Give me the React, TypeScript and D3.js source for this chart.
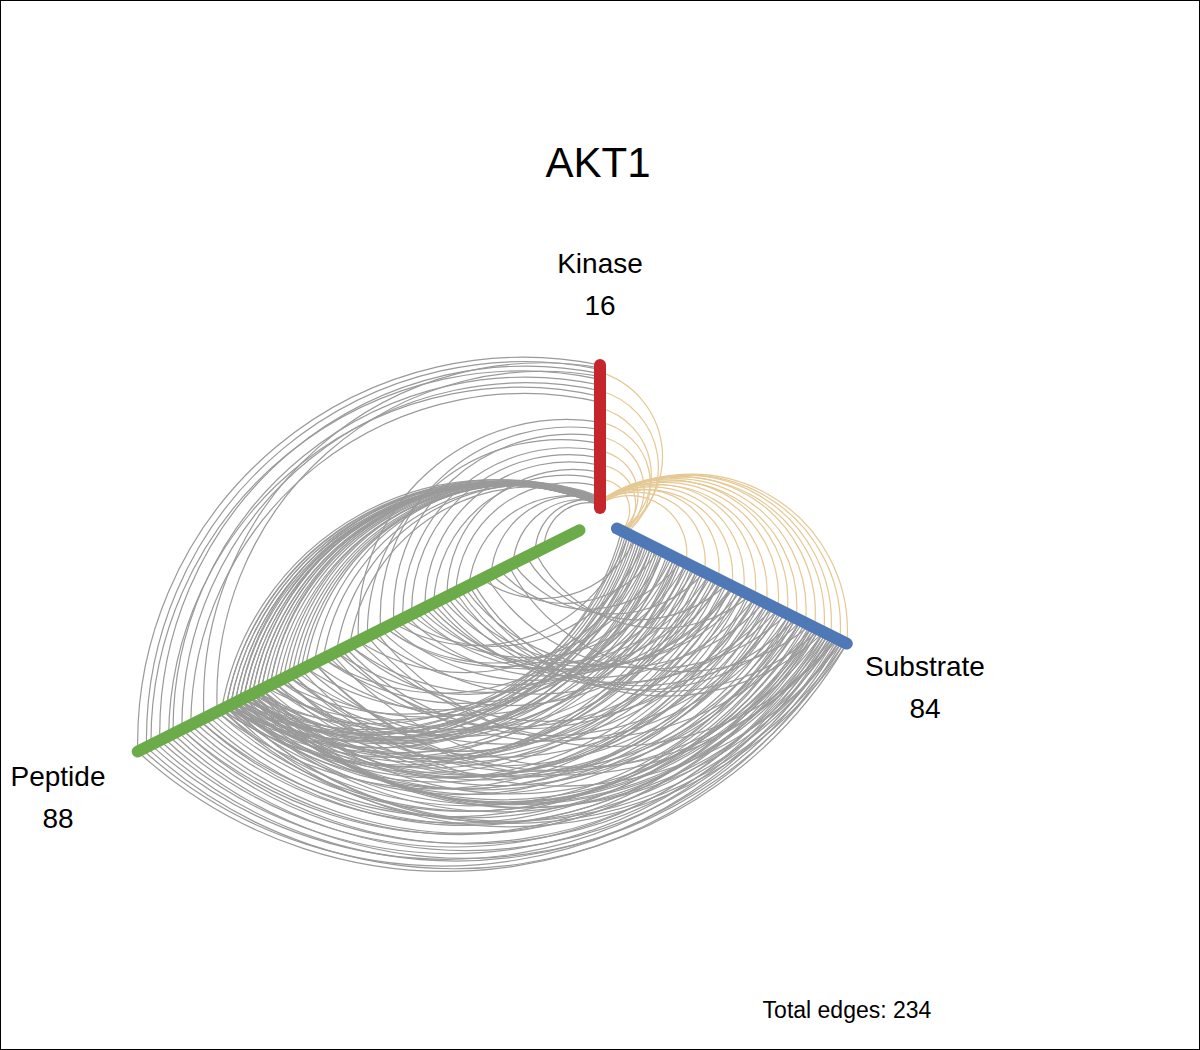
import React from 'react'
import * as d3 from 'd3'

const title = 'AKT1'
const axisNames = ['Kinase', 'Substrate', 'Peptide']
const axisCounts = [16, 84, 88]
const axisColors = ['#c4262b', '#4f79b6', '#6cab4a']

// kinase -> substrate edges [kinasePos, substratePos]
const kinaseSubstrate = [
  [0.03, 1], [0.03, 0.97], [0.04, 0.93], [0.03, 0.9], [0.05, 0.86], [0.04, 0.82],
  [0.03, 0.78], [0.05, 0.74], [0.04, 0.7], [0.03, 0.65], [0.05, 0.6], [0.04, 0.55],
  [0.03, 0.5], [0.05, 0.44], [0.04, 0.38], [0.03, 0.3], [0.95, 0.02], [0.82, 0.03],
  [0.7, 0.02], [0.6, 0.04], [0.5, 0.03], [0.4, 0.02], [0.3, 0.03], [0.2, 0.02],
]

// kinase -> peptide edges
const kpKinase = [
  0.02, 0.03, 0.04, 0.05, 0.06, 0.03, 0.04, 0.02, 0.05, 0.07,
  0.03, 0.04, 0.06, 0.02, 0.05, 0.03, 0.04, 0.06, 0.08, 0.03,
  0.05, 0.04, 0.02, 0.06, 0.03, 0.05, 0.04, 0.07, 0.03, 0.05,
  0.04, 0.02, 0.06, 0.03, 0.05,
  1, 0.97, 0.94, 0.9, 0.86, 0.82, 0.78, 0.74, 0.98, 0.92,
  0.6, 0.55, 0.5, 0.45, 0.4, 0.35, 0.3, 0.25, 0.2, 0.15,
  0.05, 0.04, 0.06, 0.03, 0.05,
]
const kpPeptide = [
  0.78, 0.76, 0.8, 0.74, 0.77, 0.79, 0.72, 0.75, 0.81, 0.7,
  0.68, 0.73, 0.66, 0.77, 0.64, 0.79, 0.71, 0.62, 0.6, 0.76,
  0.74, 0.69, 0.78, 0.58, 0.75, 0.67, 0.72, 0.55, 0.8, 0.63,
  0.7, 0.76, 0.52, 0.73, 0.65,
  1, 0.98, 0.95, 0.97, 0.92, 0.9, 0.93, 0.88, 0.85, 0.82,
  0.5, 0.45, 0.42, 0.48, 0.4, 0.38, 0.35, 0.3, 0.33, 0.28,
  0.1, 0.15, 0.2, 0.08, 0.25,
]

// substrate -> peptide edges
const spSubstrate = [
  0.05, 0.1, 0.15, 0.2, 0.25, 0.3, 0.35, 0.4, 0.45, 0.5,
  0.55, 0.6, 0.65, 0.7, 0.75, 0.8, 0.85, 0.9, 0.95, 1,
  0.08, 0.12, 0.18, 0.22, 0.28, 0.33, 0.38, 0.43, 0.48, 0.53,
  0.58, 0.63, 0.68, 0.73, 0.78, 0.83, 0.88, 0.93, 0.97, 0.99,
  0.1, 0.2, 0.3, 0.4, 0.5, 0.6, 0.7, 0.8, 0.9, 0.98,
  0.15, 0.25, 0.35, 0.45, 0.55, 0.65, 0.75, 0.85, 0.95, 0.5,
  0.05, 0.12, 0.2, 0.3, 0.4, 0.5, 0.6, 0.7, 0.8, 0.9,
  0.08, 0.18, 0.28, 0.38, 0.48, 0.58, 0.68, 0.78, 0.88, 0.96,
  1, 0.98, 0.97, 0.95, 0.99, 0.93, 0.96, 0.92, 0.94, 0.9,
  0.88, 0.85, 0.91, 0.82, 0.87, 0.8, 0.86, 0.78, 0.84, 0.76,
  0.02, 0.04, 0.06, 0.03, 0.07, 0.09, 0.11, 0.13, 0.16, 0.19,
  0.23, 0.27, 0.31, 0.36, 0.41, 0.46, 0.51, 0.56, 0.61, 0.66,
  0.71, 0.76, 0.81, 0.86, 0.91, 0.26, 0.32, 0.42, 0.52, 0.62,
  0.14, 0.24, 0.34, 0.44, 0.54, 0.64, 0.74, 0.84, 0.94, 0.72,
  0.57, 0.47, 0.37, 0.27, 0.17, 0.67, 0.77, 0.87, 0.92, 0.97,
]
const spPeptide = [
  0.78, 0.76, 0.8, 0.74, 0.79, 0.77, 0.81, 0.75, 0.78, 0.72,
  0.8, 0.76, 0.79, 0.73, 0.77, 0.82, 0.75, 0.78, 0.74, 0.8,
  0.71, 0.77, 0.79, 0.76, 0.73, 0.81, 0.78, 0.75, 0.7, 0.79,
  0.77, 0.74, 0.8, 0.76, 0.72, 0.78, 0.75, 0.81, 0.73, 0.79,
  0.68, 0.66, 0.7, 0.64, 0.69, 0.62, 0.67, 0.65, 0.6, 0.63,
  0.58, 0.55, 0.6, 0.52, 0.57, 0.5, 0.54, 0.48, 0.56, 0.45,
  0.42, 0.4, 0.44, 0.38, 0.36, 0.35, 0.33, 0.3, 0.28, 0.25,
  0.22, 0.2, 0.18, 0.15, 0.12, 0.1, 0.32, 0.27, 0.24, 0.46,
  0.98, 1, 0.96, 0.99, 0.94, 0.97, 0.92, 0.95, 0.9, 0.93,
  0.88, 0.86, 0.91, 0.84, 0.89, 0.87, 0.85, 0.83, 0.9, 0.86,
  0.78, 0.76, 0.8, 0.74, 0.77, 0.79, 0.75, 0.73, 0.78, 0.76,
  0.62, 0.58, 0.52, 0.47, 0.43, 0.39, 0.34, 0.29, 0.55, 0.65,
  0.71, 0.69, 0.67, 0.72, 0.74, 0.7, 0.68, 0.66, 0.73, 0.75,
  0.5, 0.44, 0.41, 0.37, 0.31, 0.26, 0.21, 0.16, 0.6, 0.53,
  0.82, 0.79, 0.77, 0.8, 0.76, 0.78, 0.81, 0.75, 0.74, 0.79,
]

const W = 1200
const H = 1050
const cx = 600
const cy = 520
// axis geometry: angle (degrees, screen), inner & outer radius
const axes = [
  { angle: -90, r0: 12, r1: 155 },
  { angle: 26.6, r0: 19, r1: 276 },
  { angle: 153.4, r0: 23, r1: 517 },
]
const scales = axes.map(a => d3.scaleLinear().domain([0, 1]).range([a.r0, a.r1]))

const pt = (axis: number, t: number): [number, number] => {
  const a = (axes[axis].angle * Math.PI) / 180
  const r = scales[axis](t)
  return [cx + r * Math.cos(a), cy + r * Math.sin(a)]
}

const arcPath = (p: [number, number], q: [number, number], k: number, sweep: number) => {
  const d = Math.hypot(q[0] - p[0], q[1] - p[1])
  const r = d * k
  return `M${p[0]},${p[1]}A${r},${r} 0 0 ${sweep} ${q[0]},${q[1]}`
}

const App: React.FC = () => {
  const tan = kinaseSubstrate.map(([k, s]) => arcPath(pt(0, k), pt(1, s), 0.55, 1))
  const gray = [
    ...kpKinase.map((k, i) => arcPath(pt(2, kpPeptide[i]), pt(0, k), 0.64, 1)),
    ...spSubstrate.map((s, i) => arcPath(pt(2, spPeptide[i]), pt(1, s), 0.64, 0)),
  ]
  const total = tan.length + gray.length

  const labels = [
    { x: 600, y: 266 },
    { x: 925, y: 669 },
    { x: 58, y: 779 },
  ]

  return (
    <svg
      width={W}
      height={H}
      style={{ position: 'absolute', left: 0, top: 0, fontFamily: 'Liberation Sans, Arial, sans-serif' }}
    >
      <rect x={0.5} y={0.5} width={W - 1} height={H - 1} fill="#fff" stroke="#000" />
      <text x={598} y={166} fontSize={42} textAnchor="middle" dominantBaseline="middle">
        {title}
      </text>
      <g fill="none" strokeWidth={1.2}>
        {gray.map((d, i) => (
          <path key={'g' + i} d={d} stroke="#9a9a9a" />
        ))}
        {tan.map((d, i) => (
          <path key={'t' + i} d={d} stroke="#e5c894" />
        ))}
      </g>
      {axes.map((a, i) => {
        const p = pt(i, 0)
        const q = pt(i, 1)
        return (
          <line
            key={i}
            x1={p[0]}
            y1={p[1]}
            x2={q[0]}
            y2={q[1]}
            stroke={axisColors[i]}
            strokeWidth={12}
            strokeLinecap="round"
          />
        )
      })}
      {labels.map((l, i) => (
        <g key={i} fontSize={28} textAnchor="middle" dominantBaseline="middle">
          <text x={l.x} y={l.y}>{axisNames[i]}</text>
          <text x={l.x} y={l.y + 42}>{axisCounts[i]}</text>
        </g>
      ))}
      <text x={847} y={1012} fontSize={23} textAnchor="middle" dominantBaseline="middle">
        Total edges: {total}
      </text>
    </svg>
  )
}

export default App
